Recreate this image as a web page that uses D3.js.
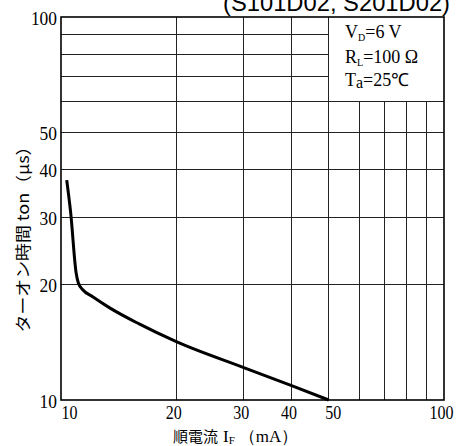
<!DOCTYPE html>
<html>
<head>
<meta charset="utf-8">
<script src="https://cdn.jsdelivr.net/npm/d3@7"></script>
<style>
html,body{margin:0;padding:0;background:#fff;}
svg{display:block;}
</style>
</head>
<body>
<svg id="chart" width="457" height="446"></svg>
<script>
// ---- data ----
const currentIF = [10.35, 10.6, 10.95, 11.1, 11.4, 12.1, 13.4, 16, 20, 30, 40, 50];
const turnOnTime = [37.5, 30.8, 21.5, 20.2, 19.4, 18.6, 17.4, 15.8, 14.2, 12.15, 10.9, 10.0];
const xTicks = [10, 20, 30, 40, 50, 100];
const yTicks = [10, 20, 30, 40, 50, 100];
const xGrid = [20, 30, 40, 50, 60, 70, 80, 90];
const yGrid = [20, 30, 40, 50, 60, 70, 80, 90];
const legendLines = [["V", "D", "=6 V"], ["R", "L", "=100 Ω"], ["T", "a", "=25℃"]];
const titleText = "(S101D02, S201D02)";

// ---- layout ----
const svg = d3.select("#chart");
const L = 61, R = 444, T = 17, B = 400;
const x = d3.scaleLog().domain([10, 100]).range([L, R]);
const y = d3.scaleLog().domain([10, 100]).range([B, T]);
const serif = "'Liberation Serif','Times New Roman',serif";

// legend box region (x 50..100, y 60..100)
const boxX0 = x(50), boxY1 = y(60);

// grid
const g = svg.append("g").attr("stroke", "#222").attr("stroke-width", 1).attr("shape-rendering", "crispEdges");
xGrid.forEach(v => {
  const top = v > 50 ? boxY1 : T;
  g.append("line").attr("x1", x(v)).attr("x2", x(v)).attr("y1", top).attr("y2", B);
});
yGrid.forEach(v => {
  const right = v > 60 ? boxX0 : R;
  g.append("line").attr("x1", L).attr("x2", right).attr("y1", y(v)).attr("y2", y(v));
});
g.append("line").attr("x1", boxX0).attr("x2", R).attr("y1", boxY1).attr("y2", boxY1);

// frame
svg.append("rect").attr("x", L).attr("y", T).attr("width", R - L).attr("height", B - T)
  .attr("fill", "none").attr("stroke", "#000").attr("stroke-width", 1.6);

// axes (labels only)
const xAxis = d3.axisBottom(x).tickValues(xTicks).tickFormat(d3.format("d")).tickSize(0).tickPadding(0);
const xa = svg.append("g").attr("transform", `translate(0,${B})`).call(xAxis);
xa.select(".domain").remove();
xa.selectAll("text").attr("y", 19).attr("dy", 0)
  .attr("font-family", serif).attr("font-size", 18).attr("fill", "#000")
  .attr("textLength", d => String(d).length * 8).attr("lengthAdjust", "spacingAndGlyphs")
  .attr("text-anchor", d => d === 10 ? "start" : "middle")
  .attr("x", d => d === 10 ? 0 : (d === 50 ? 4 : (d === 100 ? -3 : -3)));

const yAxis = d3.axisLeft(y).tickValues(yTicks).tickFormat(d3.format("d")).tickSize(0).tickPadding(0);
const ya = svg.append("g").attr("transform", `translate(${L},0)`).call(yAxis);
ya.select(".domain").remove();
ya.selectAll("text").attr("x", -4).attr("dy", 7)
  .attr("font-family", serif).attr("font-size", 19).attr("fill", "#000")
  .attr("textLength", d => String(d).length * 8.7).attr("lengthAdjust", "spacingAndGlyphs");

// curve
const line = d3.line().x((d, i) => x(currentIF[i])).y((d, i) => y(turnOnTime[i])).curve(d3.curveMonotoneX);
svg.append("path").datum(currentIF).attr("d", line)
  .attr("fill", "none").attr("stroke", "#000").attr("stroke-width", 3).attr("stroke-linejoin", "round");

// legend text
const lg = svg.append("g").attr("font-family", serif).attr("fill", "#000");
const legBase = [38, 63, 86];
legendLines.forEach((l, i) => {
  const t = lg.append("text").attr("x", 345).attr("y", legBase[i]).attr("font-size", 18);
  t.append("tspan").text(l[0]);
  t.append("tspan").attr("font-size", i === 2 ? 16 : 10).attr("dy", i === 2 ? 2 : 3).text(l[1]);
  t.append("tspan").attr("dy", i === 2 ? -2 : -3).text(l[2]);
});

// title (partly above the page edge, as in the reference)
svg.append("text").attr("x", 450).attr("y", 11).attr("text-anchor", "end")
  .attr("font-family", "'Liberation Sans',Arial,sans-serif").attr("font-size", 24)
  .attr("textLength", 227).attr("lengthAdjust", "spacingAndGlyphs").attr("fill", "#000").text(titleText);

// x axis title
const xt = svg.append("text").attr("x", 173).attr("y", 442).attr("fill", "#000")
  .attr("font-family", "'Noto Sans CJK JP',sans-serif").attr("font-size", 15);
xt.append("tspan").text("順電流");
xt.append("tspan").attr("dx", 5).attr("font-family", serif).attr("font-size", 17).text("I");
xt.append("tspan").attr("font-family", serif).attr("font-size", 11).attr("dy", 2).text("F");
xt.append("tspan").attr("dy", -2).attr("dx", 4).attr("font-family", serif).attr("font-size", 17).text("（mA）");

// y axis title
svg.append("text").attr("transform", "translate(29,235) rotate(-90)").attr("text-anchor", "middle")
  .attr("font-family", "'Noto Sans CJK JP',sans-serif").attr("font-size", 16).attr("fill", "#000")
  .attr("textLength", 195).attr("lengthAdjust", "spacingAndGlyphs")
  .text("ターオン時間 ton（μs）");
</script>
</body>
</html>
